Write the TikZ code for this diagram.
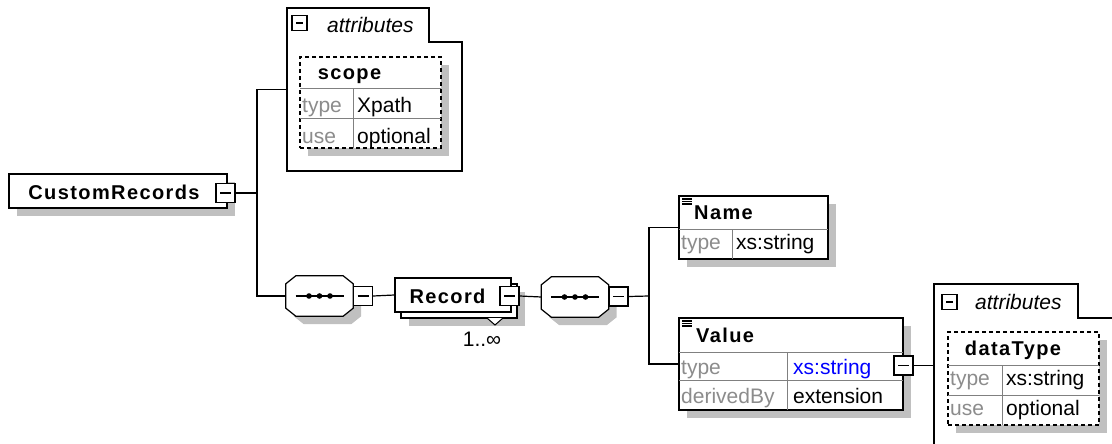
\documentclass[tikz,border=0pt]{standalone}
\usepackage{fontspec}
\setmainfont{Liberation Sans}
\newfontfamily\headfont[LetterSpace=7]{Liberation Sans}
\usetikzlibrary{shadows}

\definecolor{shadegray}{RGB}{192,192,192}
\definecolor{keygray}{RGB}{140,140,140}
\definecolor{rulegray}{RGB}{128,128,128}
\definecolor{typeblue}{RGB}{0,0,255}

\tikzset{
  wire/.style={line width=1.2pt},
  rule/.style={line width=1pt, rulegray},
  shade box/.style={drop shadow={opacity=1, fill=shadegray, shadow xshift=8pt, shadow yshift=-8pt}},
  elembox/.style={draw, line width=1.2pt, fill=white, inner sep=0pt, shade box},
  attrbox/.style={elembox, dash pattern=on 4pt off 3pt},
  seqbox/.style={inner sep=0pt, minimum width=67pt, minimum height=40pt},
  minusbox/.style={draw, line width=1.2pt, fill=white, inner sep=0pt, minimum size=19pt,
    path picture={\draw[line width=1.2pt] ([xshift=4pt]path picture bounding box.west) -- ([xshift=-4pt]path picture bounding box.east);}},
  lbl/.style={inner sep=0pt, anchor=base west, font=\fontsize{21}{24}\selectfont},
  keylbl/.style={lbl, text=keygray},
  attlbl/.style={lbl, font=\fontsize{21}{24}\selectfont\itshape},
  headlbl/.style={inner sep=0pt, anchor=base, font=\fontsize{20}{24}\selectfont\headfont\bfseries},
}

\begin{document}
\begin{tikzpicture}[x=1pt, y=-1pt]
\path[use as bounding box, clip] (0,0) rectangle (1112,444);

%%% root element
\node[elembox, minimum width=218pt, minimum height=34pt] (cr) at (118,191) {};
\node[headlbl] (cr-t) at (114,199) {CustomRecords};
\node[minusbox] (cr-m) at (225.5,193) {};
\coordinate (j1) at (257,193);

%%% attributes of the root
\draw[line width=1.2pt, fill=white] (287,171) -- (287,8) -- (429,8) -- (429,42) -- (462,42) -- (462,171) -- cycle;
\coordinate (at1) at (287,89.5);
\node[minusbox, minimum size=15pt] (at1-m) at (299.5,23) {};
\node[attlbl] (at1-t) at (327,33) {attributes};
\node[attrbox, minimum width=141pt, minimum height=91pt] (scope) at (370.5,102.5) {};
\draw[rule] (300,89) -- (441,89);
\draw[rule] (300,118) -- (441,118);
\draw[rule] (353,89) -- (353,148);
\node[headlbl] (scope-t) at (349.5,80) {scope};
\node[keylbl] (scope-k1) at (302,113) {type};
\node[lbl] (scope-v1) at (357,113) {Xpath};
\node[keylbl] (scope-k2) at (302,143) {use};
\node[lbl] (scope-v2) at (357,143) {optional};

%%% sequences (octagons drawn round the nodes)
\node[seqbox] (seq1) at (319.5,296) {};
\node[seqbox] (seq2) at (575,297) {};
\foreach \s in {seq1,seq2}{
  \draw[line width=1.2pt, fill=white, shade box]
    ([xshift=10pt]\s.north west) -- ([xshift=-10pt]\s.north east) -- ([yshift=-8pt]\s.north east)
    -- ([yshift=8pt]\s.south east) -- ([xshift=-10pt]\s.south east) -- ([xshift=10pt]\s.south west)
    -- ([yshift=8pt]\s.south west) -- ([yshift=-8pt]\s.north west) -- cycle;
  \draw[line width=1.2pt] ([xshift=-24pt]\s.center) -- ([xshift=24pt]\s.center);
  \foreach \d in {-10.5,0,10.5}
    \fill ([xshift=\d pt]\s.center) circle (2.8pt);
}
\node[minusbox] (seq1-m) at (363,296) {};
\node[minusbox] (seq2-m) at (618.5,296.5) {};
\coordinate (j2) at (649,296);

%%% Record, 1..oo
\node[elembox, minimum width=116pt, minimum height=34pt] (rec-b) at (459,301) {};
\node[draw, line width=1.2pt, fill=white, minimum width=116pt, minimum height=34pt] (rec) at (453,295) {};
\draw[line width=1pt, fill=white] (487,318) -- (495,325) -- (503,318);
\node[headlbl] (rec-t) at (447.5,303) {Record};
\node[minusbox] (rec-m) at (509.5,296) {};
\node[lbl, anchor=base] (rec-n) at (482,346) {1..∞};

%%% Name
\node[elembox, minimum width=149pt, minimum height=63pt] (name) at (753.5,227.5) {};
\draw[rule] (679,229) -- (828,229);
\draw[rule] (732,229) -- (732,259);
\foreach \y in {199,201.5,204} \draw[line width=1.2pt] (682,\y) -- (692,\y);
\node[headlbl, anchor=base west] (name-t) at (694,219) {Name};
\node[keylbl] (name-k1) at (681,249) {type};
\node[lbl] (name-v1) at (736,249) {xs:string};

%%% Value
\node[elembox, minimum width=224pt, minimum height=92pt] (val) at (791,364) {};
\draw[rule] (679,352) -- (903,352);
\draw[rule] (679,380) -- (903,380);
\draw[rule] (787,352) -- (787,410);
\foreach \y in {321,323.5,326} \draw[line width=1.2pt] (682,\y) -- (692,\y);
\node[headlbl, anchor=base west] (val-t) at (696,342) {Value};
\node[keylbl] (val-k1) at (681,374) {type};
\node[lbl, text=typeblue] (val-v1) at (793,374) {xs:string};
\node[keylbl] (val-k2) at (681,403) {derivedBy};
\node[lbl] (val-v2) at (793,403) {extension};
\node[minusbox] (val-m) at (903.5,365.5) {};

%%% attributes of Value
\draw[line width=1.2pt, fill=white] (934,460) -- (934,284) -- (1078,284) -- (1078,318) -- (1130,318) -- (1130,460) -- cycle;
\coordinate (at2) at (934,365.5);
\node[minusbox, minimum size=15pt] (at2-m) at (949.5,302) {};
\node[attlbl] (at2-t) at (975,309) {attributes};
\node[attrbox, minimum width=151pt, minimum height=93pt] (dtype) at (1023.5,378.5) {};
\draw[rule] (948,365) -- (1099,365);
\draw[rule] (948,395) -- (1099,395);
\draw[rule] (1002,365) -- (1002,425);
\node[headlbl] (dtype-t) at (1013,355) {dataType};
\node[keylbl] (dtype-k1) at (950,385) {type};
\node[lbl] (dtype-v1) at (1006,385) {xs:string};
\node[keylbl] (dtype-k2) at (950,415) {use};
\node[lbl] (dtype-v2) at (1006,415) {optional};

%%% connectors
\draw[wire] (cr-m.east) -- (j1);
\draw[wire] (j1) |- (at1);
\draw[wire] (j1) |- (seq1.west);
\draw[wire] (seq1-m.east) -- (rec.west);
\draw[wire] (rec-m.east) -- (seq2.west);
\draw[wire] (seq2-m.east) -- (j2);
\draw[wire] (j2) |- (name.west);
\draw[wire] (j2) |- (val.west);
\draw[wire] (val-m.east) -- (at2);
\end{tikzpicture}
\end{document}
